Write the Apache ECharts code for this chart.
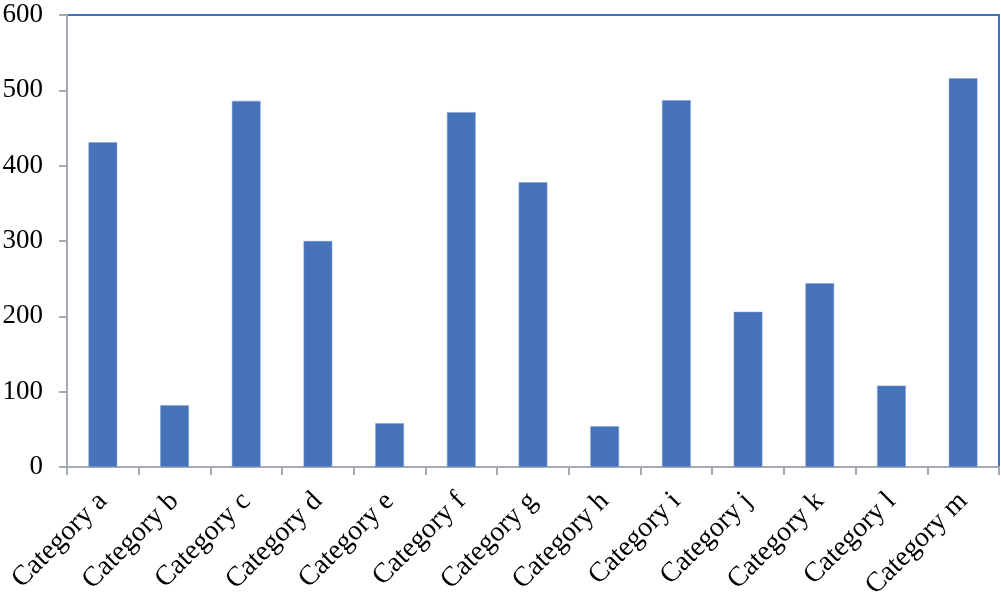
<!DOCTYPE html>
<html>
<head>
<meta charset="utf-8">
<script src="https://cdn.jsdelivr.net/npm/echarts@6/dist/echarts.min.js"></script>
<style>html,body{margin:0;padding:0;background:#fff}#c{width:1001px;height:592px}</style>
</head>
<body>
<div id="c"></div>
<script>
const categories = ['Category a','Category b','Category c','Category d','Category e','Category f','Category g','Category h','Category i','Category j','Category k','Category l','Category m'];
const values = [431, 82, 486, 300, 58, 471, 378, 54, 487, 206, 244, 108, 516];
const yTicks = [0, 100, 200, 300, 400, 500, 600];

const chart = echarts.init(document.getElementById('c'));
const font = 'Liberation Serif';
chart.setOption({
  animation: false,
  grid: {left: 67, right: 2, top: 15, bottom: 125, show: true, borderColor: '#4472C4', borderWidth: 2, backgroundColor: 'transparent', containLabel: false, outerBoundsMode: 'none'},
  xAxis: {
    type: 'category',
    data: categories,
    axisLine: {lineStyle: {color: '#A6AAB2', width: 2}},
    axisTick: {show: true, alignWithLabel: false, length: 8, lineStyle: {color: '#A6AAB2', width: 2}},
    axisLabel: {rotate: 45, margin: 30, color: '#000', fontFamily: font, fontSize: 28, interval: 0}
  },
  yAxis: {
    type: 'value',
    min: yTicks[0], max: yTicks[yTicks.length-1], interval: 100,
    axisLine: {show: true, lineStyle: {color: '#A6AAB2', width: 2}},
    axisTick: {show: true, length: 8, lineStyle: {color: '#A6AAB2', width: 2}},
    splitLine: {show: false},
    axisLabel: {margin: 24, color: '#000', fontFamily: font, fontSize: 27}
  },
  series: [{
    type: 'bar',
    data: values,
    barWidth: '40%',
    itemStyle: {color: '#4672BA', borderColor: '#7F9CCF', borderWidth: 0.5}
  }]
});
</script>
</body>
</html>
